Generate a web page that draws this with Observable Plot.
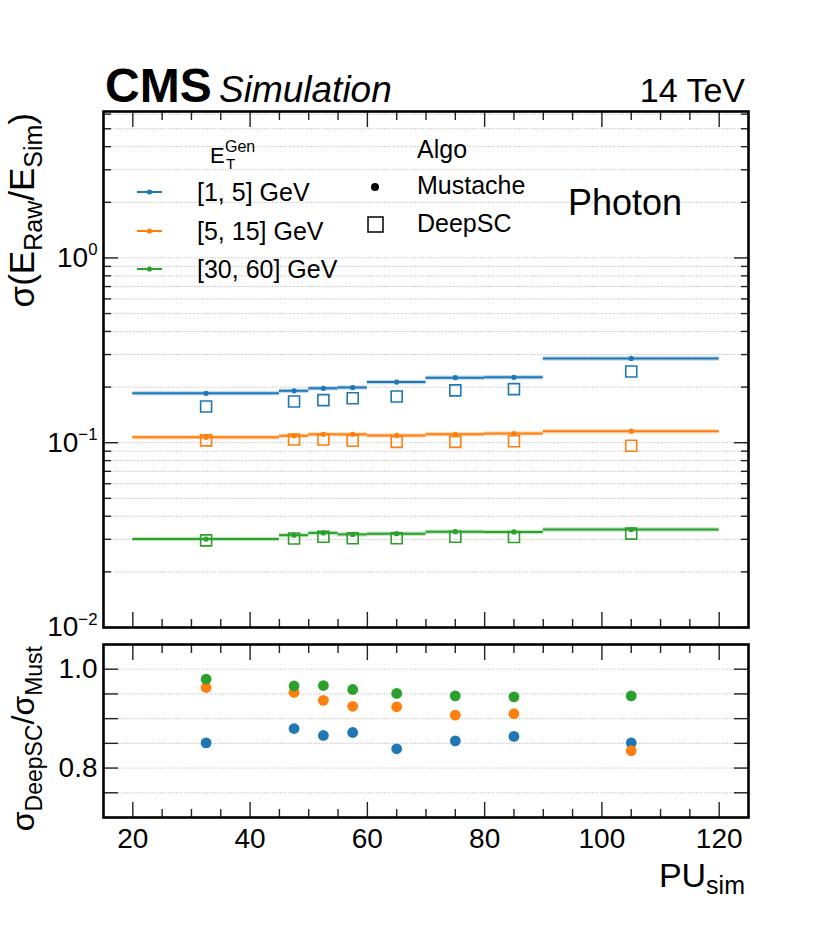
<!DOCTYPE html>
<html><head><meta charset="utf-8">
<script src="https://cdn.jsdelivr.net/npm/d3@7"></script>
<script src="https://cdn.jsdelivr.net/npm/@observablehq/plot@0.6"></script>
<style>
 html,body{margin:0;padding:0;background:#fff;}
 #chart{position:relative;width:830px;height:934px;}
 #chart svg{position:absolute;left:0;top:0;}
</style></head><body><div id="chart"></div>
<script>
// ---------------- data ----------------
const binLo    = [20, 45, 50, 55, 60, 70, 80, 90];
const binHi    = [45, 50, 55, 60, 70, 80, 90, 120];
const puCenter = [32.5, 47.5, 52.5, 57.5, 65, 75, 85, 105];
const seriesNames = ["[1, 5] GeV", "[5, 15] GeV", "[30, 60] GeV"];
const seriesColors = ["#1f77b4", "#ff7f0e", "#2ca02c"];

const mustache_1_5   = [0.185, 0.191, 0.197, 0.199, 0.213, 0.225, 0.226, 0.286];
const deepsc_1_5     = [0.157, 0.167, 0.170, 0.174, 0.178, 0.192, 0.195, 0.243];
const mustache_5_15  = [0.107, 0.109, 0.111, 0.111, 0.1095, 0.111, 0.112, 0.1155];
const deepsc_5_15    = [0.103, 0.104, 0.104, 0.1025, 0.101, 0.101, 0.1018, 0.0963];
const mustache_30_60 = [0.0301, 0.0316, 0.0325, 0.0319, 0.0322, 0.0330, 0.0329, 0.0339];
const deepsc_30_60   = [0.0296, 0.0303, 0.0310, 0.0304, 0.0304, 0.0310, 0.0309, 0.0322];

const ratio_1_5   = [0.851, 0.880, 0.866, 0.872, 0.839, 0.855, 0.864, 0.851];
const ratio_5_15  = [0.963, 0.953, 0.937, 0.925, 0.924, 0.907, 0.910, 0.835];
const ratio_30_60 = [0.980, 0.966, 0.967, 0.959, 0.951, 0.946, 0.944, 0.946];

const xMajorTicks = [20, 40, 60, 80, 100, 120];
const xMinorTicks = [25, 30, 35, 45, 50, 55, 65, 70, 75, 85, 90, 95, 105, 110, 115];
const yLogMajor = [0.01, 0.1, 1];
const yLogMinor = [0.02,0.03,0.04,0.05,0.06,0.07,0.08,0.09,0.2,0.3,0.4,0.5,0.6,0.7,0.8,0.9,2,3,4,5,6];
const yRatioTicks = [0.75, 0.8, 0.85, 0.9, 0.95, 1.0];
const yRatioLabels = [0.8, 1.0];

// ---------------- table ----------------
const mustAll = [mustache_1_5, mustache_5_15, mustache_30_60];
const deepAll = [deepsc_1_5, deepsc_5_15, deepsc_30_60];
const ratioAll = [ratio_1_5, ratio_5_15, ratio_30_60];
const rows = [];
seriesNames.forEach((s, k) => {
  puCenter.forEach((pu, i) => {
    rows.push({series: s, lo: binLo[i], hi: binHi[i], pu, must: mustAll[k][i], deep: deepAll[k][i], ratio: ratioAll[k][i]});
  });
});

const FONT = "'Liberation Sans', Arial, Helvetica, sans-serif";
const gridStyle = {stroke: "#a8a8a8", strokeDasharray: "1.2,1.4", strokeWidth: 0.9, strokeOpacity: 0.85};
const tickStroke = {stroke: "#222", strokeWidth: 1.4};
const blank = () => "";

function frameTicks(yMajor, yMinor, yFormat, xLabels) {
  const m = [
    Plot.axisY(yMajor, {anchor: "left", tickSize: -15, tickPadding: 21, tickFormat: yFormat, fontSize: 28, label: null, ...tickStroke}),
    Plot.axisY(yMajor, {anchor: "right", tickSize: -15, tickFormat: blank, label: null, ...tickStroke}),
    Plot.axisX(xMajorTicks, {anchor: "top", tickSize: -15, tickFormat: blank, label: null, ...tickStroke}),
    Plot.axisX(xMinorTicks, {anchor: "top", tickSize: -8, tickFormat: blank, label: null, ...tickStroke}),
    Plot.axisX(xMajorTicks, {anchor: "bottom", tickSize: -15, tickPadding: 26, tickFormat: xLabels ? (d => String(d)) : blank, fontSize: 28, label: null, ...tickStroke}),
    Plot.axisX(xMinorTicks, {anchor: "bottom", tickSize: -8, tickFormat: blank, label: null, ...tickStroke})
  ];
  if (yMinor) {
    m.push(Plot.axisY(yMinor, {anchor: "left", tickSize: -8, tickFormat: blank, label: null, ...tickStroke}));
    m.push(Plot.axisY(yMinor, {anchor: "right", tickSize: -8, tickFormat: blank, label: null, ...tickStroke}));
  }
  return m;
}

const colorScale = {domain: seriesNames, range: seriesColors};

// ---------------- top panel ----------------
const topSvg = Plot.plot({
  width: 830, height: 934,
  marginLeft: 103, marginRight: 82, marginTop: 111, marginBottom: 307,
  style: {background: "transparent", overflow: "visible", fontFamily: FONT, color: "#000"},
  x: {domain: [15, 125]},
  y: {type: "log", domain: [0.01, 6.2]},
  color: colorScale,
  marks: [
    Plot.gridY([...yLogMinor, 0.1, 1], gridStyle),
    Plot.ruleY(rows, {x1: "lo", x2: "hi", y: "must", stroke: "series", strokeWidth: 4.5, strokeOpacity: 0.28}),
    Plot.ruleY(rows, {x1: "lo", x2: "hi", y: "must", stroke: "series", strokeWidth: 2}),
    Plot.dot(rows, {x: "pu", y: "must", fill: "series", r: 2.6}),
    Plot.dot(rows, {x: "pu", y: "deep", stroke: "series", symbol: "square", r: 6.2, strokeWidth: 1.6, fill: "none"}),
    ...frameTicks(yLogMajor, yLogMinor, d => "10^" + Math.round(Math.log10(d)), false),
    Plot.frame({stroke: "#000", strokeWidth: 2.6})
  ]
});

// ---------------- ratio panel ----------------
const botSvg = Plot.plot({
  width: 830, height: 934,
  marginLeft: 103, marginRight: 82, marginTop: 644, marginBottom: 117,
  style: {background: "transparent", overflow: "visible", fontFamily: FONT, color: "#000"},
  x: {domain: [15, 125]},
  y: {domain: [0.7, 1.05]},
  color: colorScale,
  marks: [
    Plot.gridY(yRatioTicks, gridStyle),
    Plot.dot(rows, {x: "pu", y: "ratio", fill: "series", r: 5.4}),
    ...frameTicks(yRatioTicks, null, d => yRatioLabels.some(v => Math.abs(v - d) < 1e-9) ? d.toFixed(1) : "", true),
    Plot.frame({stroke: "#000", strokeWidth: 2.6})
  ]
});

const chart = document.getElementById("chart");
chart.appendChild(topSvg);
chart.appendChild(botSvg);

// superscript exponents on log tick labels
d3.select(topSvg).selectAll('g[aria-label="y-axis tick label"] text').each(function () {
  const s = this.textContent;
  if (!s.includes("^")) return;
  const [b, e] = s.split("^");
  this.textContent = b;
  d3.select(this).append("tspan").attr("dy", "-0.7em").attr("font-size", "0.6em").text(e.replace("-", "\u2212"));
});

// ---------------- annotations ----------------
const g = d3.select(topSvg).append("g").attr("font-family", FONT).attr("fill", "#000").attr("text-anchor", "start");

g.append("text").attr("x", 105).attr("y", 102).attr("font-size", 48).attr("font-weight", "bold").text("CMS");
g.append("text").attr("x", 219).attr("y", 102).attr("font-size", 37).attr("font-style", "italic").text("Simulation");
g.append("text").attr("x", 745).attr("y", 102).attr("font-size", 34).attr("text-anchor", "end").text("14 TeV");
g.append("text").attr("x", 568).attr("y", 215).attr("font-size", 36).text("Photon");

// y label top
const yl = g.append("text").attr("transform", "translate(34,113) rotate(-90)").attr("text-anchor", "end").attr("font-size", 35);
yl.append("tspan").text("σ(E");
yl.append("tspan").attr("font-size", 25).attr("dy", 8).text("Raw");
yl.append("tspan").attr("dy", -8).text("/E");
yl.append("tspan").attr("font-size", 25).attr("dy", 8).text("Sim");
yl.append("tspan").attr("dy", -8).text(")");

// y label bottom
const yl2 = g.append("text").attr("transform", "translate(34,646) rotate(-90)").attr("text-anchor", "end").attr("font-size", 32);
yl2.append("tspan").text("σ");
yl2.append("tspan").attr("font-size", 23).attr("dy", 8).text("DeepSC");
yl2.append("tspan").attr("dy", -8).text("/σ");
yl2.append("tspan").attr("font-size", 23).attr("dy", 8).text("Must");

// x label
const xl = g.append("text").attr("x", 745).attr("y", 887).attr("text-anchor", "end").attr("font-size", 34);
xl.append("tspan").text("PU");
xl.append("tspan").attr("font-size", 25).attr("dy", 7).text("sim");

// legend: E_T^Gen
const lt = g.append("text").attr("x", 210).attr("y", 163).attr("font-size", 22);
lt.append("tspan").text("E");
lt.append("tspan").attr("x", 225).attr("y", 152).attr("font-size", 16).text("Gen");
lt.append("tspan").attr("x", 226).attr("y", 169).attr("font-size", 15).text("T");
const rowY = [192, 231, 269];
seriesNames.forEach((s, i) => {
  g.append("line").attr("x1", 137).attr("x2", 162).attr("y1", rowY[i]).attr("y2", rowY[i]).attr("stroke", seriesColors[i]).attr("stroke-width", 2);
  g.append("circle").attr("cx", 149.5).attr("cy", rowY[i]).attr("r", 2.6).attr("fill", seriesColors[i]);
  g.append("text").attr("x", 197).attr("y", rowY[i] + 9).attr("font-size", 25).text(s);
});
// legend: Algo
g.append("text").attr("x", 417).attr("y", 158).attr("font-size", 25).text("Algo");
g.append("circle").attr("cx", 375).attr("cy", 187).attr("r", 4).attr("fill", "#000");
g.append("text").attr("x", 417).attr("y", 194).attr("font-size", 25).text("Mustache");
g.append("rect").attr("x", 368).attr("y", 217).attr("width", 15).attr("height", 15).attr("fill", "none").attr("stroke", "#000").attr("stroke-width", 1.5);
g.append("text").attr("x", 417).attr("y", 232).attr("font-size", 25).text("DeepSC");
</script></body></html>
